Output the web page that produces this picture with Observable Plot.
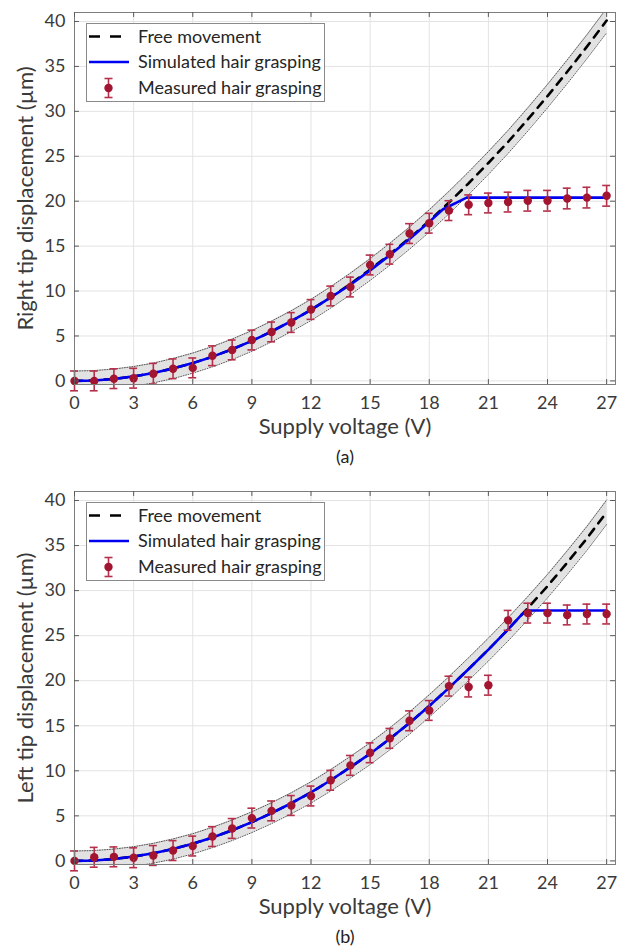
<!DOCTYPE html>
<html><head><meta charset="utf-8">
<script src="https://cdn.jsdelivr.net/npm/d3@7"></script>
<script src="https://cdn.jsdelivr.net/npm/@observablehq/plot@0.6"></script>
<style>
body{margin:0;background:#fff;}
#root{position:relative;width:626px;height:952px;font-family:Lato,"Open Sans",sans-serif;}
.panel{position:absolute;left:0;width:626px;height:476px;}
.legend{position:absolute;}
</style></head><body><div id="root"></div>
<script>
// ---------- data ----------
const voltage = [0,1,2,3,4,5,6,7,8,9,10,11,12,13,14,15,16,17,18,19,20,21,22,23,24,25,26,27];

// (a) right tip
const rightFree = [0,0.05,0.22,0.5,0.88,1.38,1.98,2.7,3.52,4.45,5.5,6.65,7.9,9.3,10.8,12.4,14.1,15.9,17.8,19.85,22.0,24.25,26.6,29.1,31.7,34.4,37.2,40.1];
const rightBand = [1.1,1.1,1.1,1.1,1.1,1.12,1.12,1.13,1.14,1.15,1.16,1.17,1.18,1.19,1.2,1.21,1.22,1.23,1.24,1.25,1.26,1.27,1.28,1.29,1.3,1.32,1.33,1.35];
const rightSimV = [0,1,2,3,4,5,6,7,8,9,10,11,12,13,14,15,16,17,18,18.7,19.9,27];
const rightSimY = [0,0.05,0.22,0.5,0.88,1.38,1.98,2.7,3.52,4.45,5.5,6.65,7.9,9.3,10.7,12.3,14.0,15.8,17.7,19.1,20.4,20.4];
const rightMeasured = [0,0,0.25,0.3,0.8,1.35,1.45,2.8,3.45,4.55,5.45,6.5,7.95,9.45,10.45,12.9,14.1,16.4,17.55,18.95,19.6,19.8,19.9,20.05,20.05,20.3,20.4,20.6];
const rightErr = [1.1,1.1,1.1,1.1,1.15,1.1,1.1,1.1,1.1,1.1,1.1,1.1,1.1,1.1,1.1,1.1,1.1,1.1,1.1,1.1,1.1,1.1,1.1,1.15,1.15,1.15,1.15,1.15];

// (b) left tip
const leftFree = [0,0.05,0.21,0.48,0.85,1.32,1.9,2.6,3.4,4.3,5.3,6.4,7.6,8.95,10.4,11.9,13.55,15.3,17.2,19.2,21.3,23.45,25.7,28.05,30.5,33.1,35.8,38.7];
const leftBand = [1.1,1.1,1.1,1.1,1.1,1.12,1.12,1.13,1.14,1.15,1.16,1.17,1.18,1.19,1.2,1.21,1.22,1.23,1.24,1.25,1.26,1.27,1.28,1.29,1.3,1.32,1.33,1.35];
const leftSimV = [0,1,2,3,4,5,6,7,8,9,10,11,12,13,14,15,16,17,18,19,20,21,22,22.7,22.95,27];
const leftSimY = [0,0.05,0.21,0.48,0.85,1.32,1.9,2.6,3.4,4.3,5.3,6.4,7.6,8.95,10.4,11.9,13.55,15.3,17.2,19.2,21.3,23.45,25.7,27.35,27.8,27.8];
const leftMeasured = [0,0.4,0.45,0.35,0.6,1.15,1.65,2.7,3.6,4.75,5.55,6.15,7.2,8.95,10.6,12.0,13.6,15.55,16.7,19.4,19.3,19.5,26.7,27.5,27.5,27.3,27.4,27.4];
const leftErr = [1.1,1.1,1.1,1.1,1.1,1.1,1.1,1.1,1.1,1.1,1.1,1.1,1.1,1.1,1.1,1.1,1.1,1.1,1.1,1.1,1.1,1.1,1.1,1.1,1.1,1.1,1.1,1.1];

const xTicks = [0,3,6,9,12,15,18,21,24,27];
const yTicks = [0,5,10,15,20,25,30,35,40];
const xLabel = "Supply voltage (V)";
const legendLabels = ["Free movement","Simulated hair grasping","Measured hair grasping"];

// ---------- style ----------
const FONT = "Lato, 'Open Sans', sans-serif";
const RED = "#A2142F";
const ERR = "#b5304a";
const xMax = 27.45, yMin = -0.4, yMax = 41;

function panel({free, band, simV, simY, meas, err, yLabel, caption, marginTop, marginBottom}) {
  const f = voltage.map((v, i) => ({v, y: free[i], lo: free[i] - band[i], hi: free[i] + band[i]}));
  const s = simV.map((v, i) => ({v, y: simY[i]}));
  const m = voltage.map((v, i) => ({v, y: meas[i], e: err[i]}));
  return Plot.plot({
    width: 626, height: 476,
    marginLeft: 74, marginRight: 11, marginTop, marginBottom,
    style: {fontFamily: FONT, fontSize: "18px", color: "#3a3a3a", background: "white", overflow: "visible"},
    x: {domain: [0, xMax]},
    y: {domain: [yMin, yMax]},
    marks: [
      Plot.gridX(xTicks, {stroke: "#e3e3e3", strokeOpacity: 1}),
      Plot.gridY(yTicks, {stroke: "#e3e3e3", strokeOpacity: 1}),
      Plot.areaY(f, {x: "v", y1: "lo", y2: "hi", fill: "#e2e2e2", clip: true}),
      Plot.line(f, {x: "v", y: "lo", stroke: "#444", strokeWidth: 0.9, strokeDasharray: "1,1.5", clip: true}),
      Plot.line(f, {x: "v", y: "hi", stroke: "#444", strokeWidth: 0.9, strokeDasharray: "1,1.5", clip: true}),
      Plot.line(f, {x: "v", y: "y", stroke: "black", strokeWidth: 2.6, strokeDasharray: "8,7", clip: true}),
      Plot.line(s, {x: "v", y: "y", stroke: "#0000f0", strokeWidth: 2.6}),
      Plot.ruleX(m, {x: "v", y1: d => d.y - d.e, y2: d => d.y + d.e, stroke: ERR, strokeWidth: 1.6}),
      Plot.ruleY(m, {y: d => d.y + d.e, x1: d => d.v - 0.2, x2: d => d.v + 0.2, stroke: ERR, strokeWidth: 1.6}),
      Plot.ruleY(m, {y: d => d.y - d.e, x1: d => d.v - 0.2, x2: d => d.v + 0.2, stroke: ERR, strokeWidth: 1.6}),
      Plot.dot(m, {x: "v", y: "y", r: 4.2, fill: RED, stroke: "none"}),
      Plot.frame({stroke: "#7d7d7d"}),
      Plot.ruleX(xTicks, {x: d => d, y1: yMin, y2: yMin + 0.55, stroke: "#5a5a5a"}),
      Plot.ruleX(xTicks, {x: d => d, y1: yMax - 0.55, y2: yMax, stroke: "#5a5a5a"}),
      Plot.ruleY(yTicks, {y: d => d, x1: 0, x2: 0.25, stroke: "#5a5a5a"}),
      Plot.ruleY(yTicks, {y: d => d, x1: xMax - 0.25, x2: xMax, stroke: "#5a5a5a"}),
      Plot.axisX(xTicks, {tickSize: 0, tickPadding: 12, label: null, fontSize: 18, fill: "#3a3a3a"}),
      Plot.axisY(yTicks, {tickSize: 0, tickPadding: 9, label: null, fontSize: 18, fill: "#3a3a3a"}),
      Plot.text([xLabel], {text: d => d, frameAnchor: "bottom", dy: 49, fontSize: 22, fill: "#3a3a3a"}),
      Plot.text([caption], {text: d => d, frameAnchor: "bottom", dy: 78, fontSize: 18, fill: "#222"}),
      Plot.text([yLabel], {text: d => d, frameAnchor: "left", textAnchor: "middle", dx: -49, rotate: -90, fontSize: 22, fill: "#3a3a3a"})
    ]
  });
}

function legend(top) {
  const w = 239, h = 79;
  const svg = d3.create("svg").attr("class", "legend").attr("width", w + 1).attr("height", h + 1)
    .style("left", "86px").style("top", top + "px");
  svg.append("rect").attr("x", 0.5).attr("y", 0.5).attr("width", w - 1).attr("height", h - 1)
    .attr("fill", "white").attr("stroke", "#8a8a8a");
  const rows = [13.5, 39, 65];
  svg.append("line").attr("x1", 3).attr("x2", 37).attr("y1", rows[0]).attr("y2", rows[0])
    .attr("stroke", "black").attr("stroke-width", 2.6).attr("stroke-dasharray", "11,10");
  svg.append("line").attr("x1", 3).attr("x2", 43).attr("y1", rows[1]).attr("y2", rows[1])
    .attr("stroke", "#0000f0").attr("stroke-width", 2.6);
  const cx = 22.5, cy = rows[2];
  const g = svg.append("g").attr("stroke", ERR).attr("stroke-width", 1.6);
  g.append("line").attr("x1", cx).attr("x2", cx).attr("y1", cy - 9.5).attr("y2", cy + 9.5);
  g.append("line").attr("x1", cx - 4).attr("x2", cx + 4).attr("y1", cy - 9.5).attr("y2", cy - 9.5);
  g.append("line").attr("x1", cx - 4).attr("x2", cx + 4).attr("y1", cy + 9.5).attr("y2", cy + 9.5);
  svg.append("circle").attr("cx", cx).attr("cy", cy).attr("r", 4.2).attr("fill", RED);
  legendLabels.forEach((t, i) => {
    svg.append("text").attr("x", 52).attr("y", rows[i]).attr("dy", "0.35em")
      .attr("font-family", FONT).attr("font-size", 18).attr("fill", "#262626").text(t);
  });
  return svg.node();
}

const root = document.getElementById("root");
const pa = document.createElement("div"); pa.className = "panel"; pa.style.top = "0px";
pa.appendChild(panel({free: rightFree, band: rightBand, simV: rightSimV, simY: rightSimY, meas: rightMeasured, err: rightErr,
  yLabel: "Right tip displacement (µm)", caption: "(a)", marginTop: 12, marginBottom: 92}));
root.appendChild(pa);
const pb = document.createElement("div"); pb.className = "panel"; pb.style.top = "476px";
pb.appendChild(panel({free: leftFree, band: leftBand, simV: leftSimV, simY: leftSimY, meas: leftMeasured, err: leftErr,
  yLabel: "Left tip displacement (µm)", caption: "(b)", marginTop: 15, marginBottom: 88}));
root.appendChild(pb);
root.appendChild(legend(23));
root.appendChild(legend(502));
</script></body></html>
